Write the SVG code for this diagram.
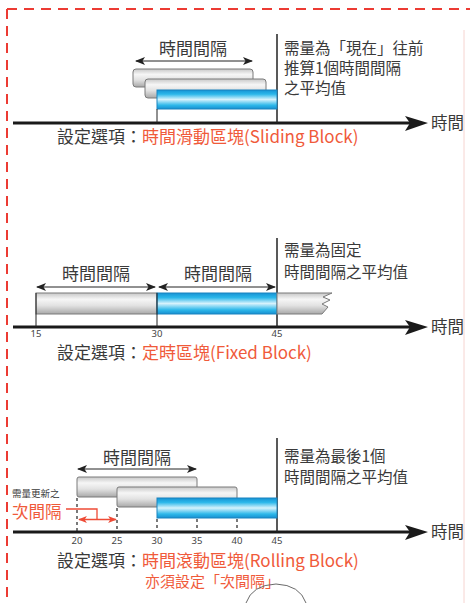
<svg xmlns="http://www.w3.org/2000/svg" width="470" height="603" viewBox="0 0 470 603">
<defs>
<linearGradient id="gGray" x1="0" y1="0" x2="0" y2="1">
<stop offset="0" stop-color="#c8c8c8"/><stop offset="0.3" stop-color="#f6f6f6"/><stop offset="0.6" stop-color="#e2e2e2"/><stop offset="1" stop-color="#a8a8a8"/>
</linearGradient>
<linearGradient id="gBlue" x1="0" y1="0" x2="0" y2="1">
<stop offset="0" stop-color="#1693d4"/><stop offset="0.22" stop-color="#2bb7ea"/><stop offset="0.5" stop-color="#d6f2fc"/><stop offset="0.8" stop-color="#2db8ea"/><stop offset="1" stop-color="#168fd0"/>
</linearGradient>
<marker id="ah" viewBox="0 0 10 8" refX="9" refY="4" markerWidth="10" markerHeight="8" markerUnits="userSpaceOnUse" orient="auto-start-reverse">
<path d="M0,0 L10,4 L0,8 L2.5,4 Z" fill="#222"/>
</marker>
<marker id="ahr" viewBox="0 0 10 8" refX="9" refY="4" markerWidth="9" markerHeight="7" markerUnits="userSpaceOnUse" orient="auto-start-reverse">
<path d="M0,0 L10,4 L0,8 L2.5,4 Z" fill="#ee4b36"/>
</marker>
</defs>
<style>
.t{font-family:"Noto Sans CJK TC","Noto Sans",sans-serif;fill:#3a3a3a}
.o{font-family:"Noto Sans CJK TC","Noto Sans",sans-serif;fill:#f05a3a}
.tk{font-family:"Noto Sans","DejaVu Sans",sans-serif;font-size:9.5px;fill:#444}
.axis{stroke:#1a1a1a;stroke-width:3}
.vl{stroke:#222;stroke-width:1.5}
.thin{stroke:#222;stroke-width:1}
.dbl{stroke:#222;stroke-width:1;marker-start:url(#ah);marker-end:url(#ah)}
.gbar{fill:url(#gGray);stroke:#7a7a7a;stroke-width:1}
.bbar{fill:url(#gBlue);stroke:#1b84bf;stroke-width:1}
.dash{stroke:#222;stroke-width:1.2;stroke-dasharray:3,3}
.border{stroke:#ec3b33;stroke-width:2;stroke-dasharray:10,7;fill:none}
</style>
<rect width="470" height="603" fill="#ffffff"/>
<g id="border">
<path class="border" d="M7,9 H470"/>
<path class="border" d="M7,9 V603"/>
<path d="M464,30 V603" stroke="#f6d4d0" stroke-width="1" fill="none"/>
</g>

<g id="connectors">
<line class="axis" x1="13" y1="123" x2="410" y2="123"/>
<path d="M428,123 L405,116 L410,123 L405,131 Z" fill="#1a1a1a"/>
<line class="vl" x1="277" y1="34" x2="277" y2="123"/>
<line class="dbl" x1="136" y1="61" x2="252" y2="61"/>
<line class="axis" x1="13" y1="327" x2="410" y2="327"/>
<path d="M428,327 L405,320 L410,327 L405,335 Z" fill="#1a1a1a"/>
<line class="vl" x1="277" y1="238" x2="277" y2="327"/>
<line class="dbl" x1="37" y1="287" x2="155" y2="287"/>
<line class="dbl" x1="159" y1="287" x2="275" y2="287"/>
<line class="axis" x1="13" y1="532" x2="410" y2="532"/>
<path d="M428,532 L405,525 L410,532 L405,540 Z" fill="#1a1a1a"/>
<line class="vl" x1="277" y1="438" x2="277" y2="532"/>
<line class="dbl" x1="78" y1="469" x2="196" y2="469"/>
</g>

<g id="sliding-block">
<rect class="gbar" x="133" y="69" width="120" height="18" rx="3"/>
<rect class="gbar" x="145" y="79" width="121" height="19" rx="3"/>
<rect class="bbar" x="157" y="90" width="120" height="19"/>
<line class="thin" x1="157" y1="109" x2="157" y2="123"/>
<text class="t" x="193" y="55" font-size="17" text-anchor="middle">時間間隔</text>
<text class="t" x="284" y="54" font-size="15.5">需量為「現在」往前</text>
<text class="t" x="284" y="74" font-size="15.5">推算1個時間間隔</text>
<text class="t" x="284" y="94" font-size="15.5">之平均值</text>
<text class="t" x="431" y="129" font-size="16.5">時間</text>
<text x="57" y="143" font-size="17"><tspan class="t">設定選項：</tspan><tspan class="o">時間滑動區塊(Sliding Block)</tspan></text>
</g>

<g id="fixed-block">
<rect class="gbar" x="36" y="293" width="121" height="21"/>
<rect class="bbar" x="157" y="293" width="120" height="21"/>
<path class="gbar" d="M277,293 H332 L323,297 L330,300 L322,304 L328,307 L322,314 H277 Z"/>
<line class="thin" x1="36" y1="293" x2="36" y2="327"/>
<line class="thin" x1="157" y1="293" x2="157" y2="327"/>
<text class="t" x="96" y="280" font-size="17" text-anchor="middle">時間間隔</text>
<text class="t" x="218" y="280" font-size="17" text-anchor="middle">時間間隔</text>
<text class="t" x="284" y="256" font-size="15.5">需量為固定</text>
<text class="t" x="284" y="278" font-size="15.5">時間間隔之平均值</text>
<text class="tk" x="36" y="337" text-anchor="middle" font-size="9">15</text>
<text class="tk" x="157" y="337" text-anchor="middle" font-size="9">30</text>
<text class="tk" x="277" y="337" text-anchor="middle" font-size="9">45</text>
<text class="t" x="431" y="333" font-size="16.5">時間</text>
<text x="57" y="358.5" font-size="17"><tspan class="t">設定選項：</tspan><tspan class="o">定時區塊(Fixed Block)</tspan></text>
</g>

<g id="rolling-block">
<rect class="gbar" x="77" y="477" width="120" height="20" rx="2"/>
<rect class="gbar" x="117" y="487" width="120" height="20" rx="2"/>
<rect class="bbar" x="157" y="498" width="120" height="20"/>
<line class="dash" x1="77" y1="498" x2="77" y2="531"/>
<line class="dash" x1="117" y1="508" x2="117" y2="531"/>
<line class="dash" x1="157" y1="519" x2="157" y2="531"/>
<line class="dash" x1="197" y1="519" x2="197" y2="531"/>
<line class="dash" x1="237" y1="519" x2="237" y2="531"/>
<text class="t" x="137" y="464" font-size="17" text-anchor="middle">時間間隔</text>
<text class="t" x="284" y="462" font-size="15.5">需量為最後1個</text>
<text class="t" x="284" y="483" font-size="15.5">時間間隔之平均值</text>
<text class="t" x="12" y="497" font-size="9.5">需量更新之</text>
<text class="o" x="12" y="517.5" font-size="16.5">次間隔</text>
<path d="M66,509 H97 V519.5" fill="none" stroke="#ee4b36" stroke-width="1.3"/>
<line x1="79" y1="519.5" x2="116" y2="519.5" stroke="#ee4b36" stroke-width="1.3" marker-start="url(#ahr)" marker-end="url(#ahr)"/>
<text class="tk" x="77" y="544" text-anchor="middle">20</text>
<text class="tk" x="117" y="544" text-anchor="middle">25</text>
<text class="tk" x="157" y="544" text-anchor="middle">30</text>
<text class="tk" x="197" y="544" text-anchor="middle">35</text>
<text class="tk" x="237" y="544" text-anchor="middle">40</text>
<text class="tk" x="277" y="544" text-anchor="middle">45</text>
<text class="t" x="431" y="538" font-size="16.5">時間</text>
<text x="57" y="566.5" font-size="17"><tspan class="t">設定選項：</tspan><tspan class="o">時間滾動區塊(Rolling Block)</tspan></text>
<text class="o" x="145" y="587" font-size="15">亦須設定「次間隔」</text>
</g>

<g id="circle">
<path d="M246,603 Q252,585 276,584 Q300,585 306,603" fill="none" stroke="#6a6a6a" stroke-width="1"/>
</g>
</svg>
